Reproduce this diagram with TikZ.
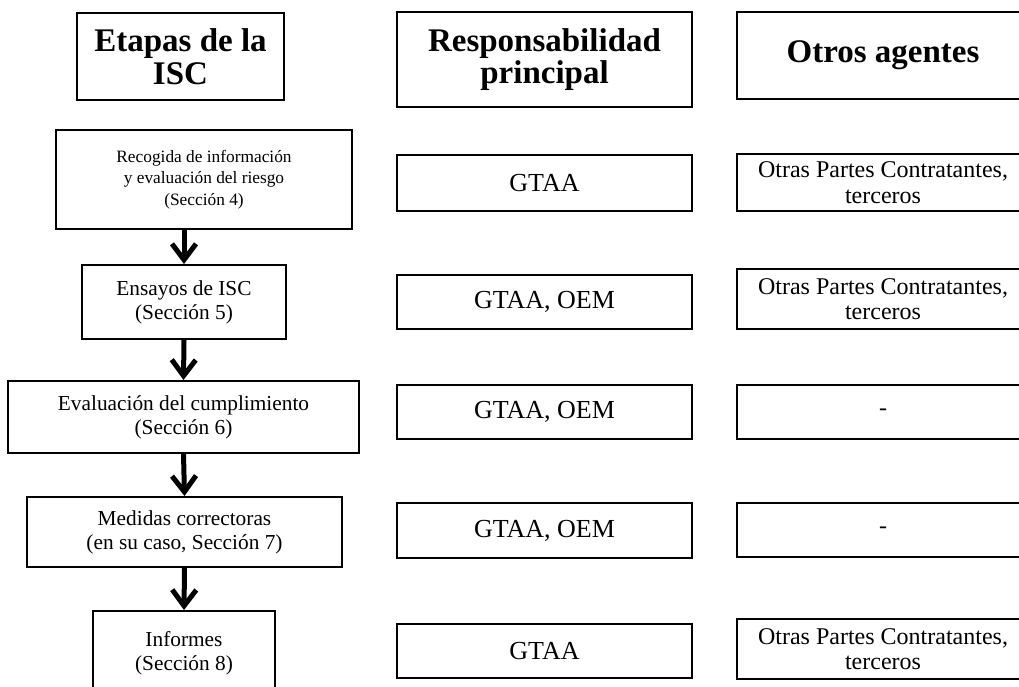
\documentclass[tikz,border=0pt]{standalone}
\usepackage{fontspec}
\setmainfont{Liberation Serif}
\usetikzlibrary{arrows.meta}

\begin{document}
\begin{tikzpicture}[x=0.75pt,y=-0.75pt]

\tikzset{
  BoxSize/.style 2 args = {minimum width=#1*0.75pt, minimum height=#2*0.75pt},
  HeadStyle/.style = {draw, line width=2.2pt, align=center, inner sep=0pt,
                      font=\fontsize{24.75}{24.5}\selectfont\bfseries},
  BoxStyle/.style = {draw, line width=1.5pt, align=center, inner sep=0pt},
  StepStyle/.style = {BoxStyle, font=\fontsize{16}{18}\selectfont},
  RespStyle/.style = {BoxStyle, font=\fontsize{19.5}{22}\selectfont},
  OtherStyle/.style = {BoxStyle, font=\fontsize{18}{19}\selectfont},
  FlowStyle/.style = {line width=3.75pt,
                      -{Straight Barb[length=12pt,width=18pt]}} }
  \useasboundingbox (0,0) rectangle (1019,686);
  \clip (0,0) rectangle (1019,686);

  % headers
  \node[HeadStyle,BoxSize={207}{87}] (etapas) at (180.5, 56.5) {Etapas de la\\ISC};
  \node[HeadStyle,BoxSize={295}{95}] (resp) at (544.5, 59.5) {Responsabilidad\\principal};
  \node[HeadStyle,BoxSize={292}{87}] (otros) at (883, 55.5) {Otros agentes};

  % stages
  \node[StepStyle,BoxSize={296}{99},font=\fontsize{13}{16.3}\selectfont] (e1) at (204, 179.5)
       {Recogida de información\\y evaluación del riesgo\\(Sección 4)};
  \node[StepStyle,BoxSize={204}{74}] (e2) at (184, 302) {Ensayos de ISC\\(Sección 5)};
  \node[StepStyle,BoxSize={351}{72}] (e3) at (183.5, 417) {Evaluación del cumplimiento\\(Sección 6)};
  \node[StepStyle,BoxSize={315}{70}] (e4) at (184.5, 532) {Medidas correctoras\\(en su caso, Sección 7)};
  \node[StepStyle,BoxSize={182}{84}] (e5) at (184, 653) {Informes\\(Sección 8)};

  % main responsibility
  \node[RespStyle,BoxSize={295}{56}] (r1) at (544.5, 183) {GTAA};
  \node[RespStyle,BoxSize={295}{54}] (r2) at (544.5, 302) {GTAA, OEM};
  \node[RespStyle,BoxSize={295}{54}] (r3) at (544.5, 412) {GTAA, OEM};
  \node[RespStyle,BoxSize={295}{55}] (r4) at (544.5, 530.5) {GTAA, OEM};
  \node[RespStyle,BoxSize={295}{54}] (r5) at (544.5, 651) {GTAA};

  % other agents
  \node[OtherStyle,BoxSize={292}{57}] (o1) at (883, 182.5) {Otras Partes Contratantes,\\terceros};
  \node[OtherStyle,BoxSize={292}{60}] (o2) at (883, 299) {Otras Partes Contratantes,\\terceros};
  \node[OtherStyle,BoxSize={292}{54}] (o3) at (883, 412) {-};
  \node[OtherStyle,BoxSize={292}{54}] (o4) at (883, 530) {-};
  \node[OtherStyle,BoxSize={292}{60}] (o5) at (883, 649) {Otras Partes Contratantes,\\terceros};

  \draw[FlowStyle] (e2.north |- e1.south) -- (e2.north);
  \draw[FlowStyle] (e2.south) -- (e3.north);
  \draw[FlowStyle] (e3.south) -- (e4.north);
  \draw[FlowStyle] (e4.south) -- (e5.north);

\end{tikzpicture}
\end{document}
